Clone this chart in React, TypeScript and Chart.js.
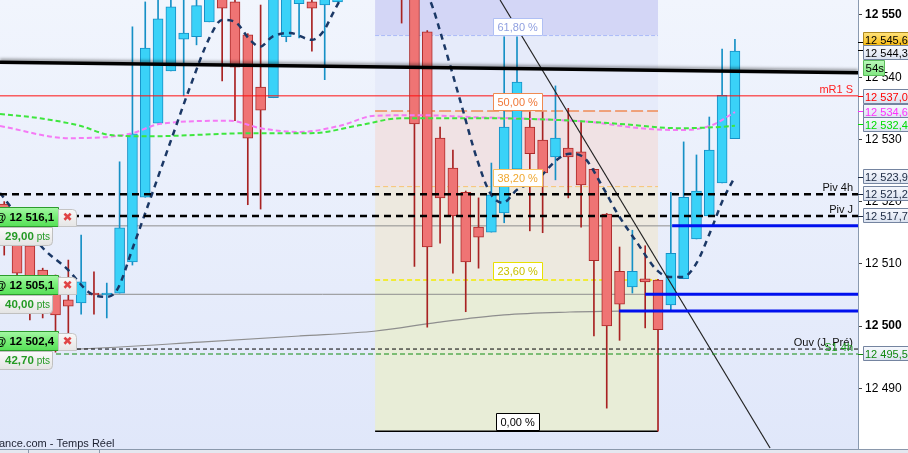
import React, { useEffect, useRef } from 'react';
import { Chart, registerables } from 'chart.js';

Chart.register(...registerables);

const FONT = '"Liberation Sans", Arial, Helvetica, sans-serif';

// ---------- candles (index, O, H, L, C) ----------
const candleIndex = [-1, 0, 1, 2, 3, 4, 5, 6, 7, 8, 9, 10, 11, 12, 13, 14, 15, 16, 17, 18, 19, 20, 21, 22, 23, 24, 25, 26, 27, 28, 29, 30, 31, 32, 33, 34, 35, 36, 37, 38, 39, 40, 41, 42, 43, 44, 45, 46, 47, 48, 49, 50, 51, 52, 53, 54, 55, 56];
const opens = [12519.6, 12515.8, 12512.9, 12509.0, 12507.9, 12504.2, 12503.7, 12505.3, 12505.0, 12505.3, 12510.3, 12520.7, 12532.6, 12541.0, 12546.1, 12546.5, 12548.9, 12554.0, 12552.1, 12546.8, 12538.4, 12536.7, 12546.5, 12551.8, 12552.1, 12551.6, 12552.1, 12560.0, 12570.0, 12578.0, 12572.0, 12563.0, 12556.0, 12547.3, 12530.2, 12525.4, 12521.5, 12515.9, 12515.1, 12518.2, 12525.2, 12532.0, 12529.9, 12527.2, 12528.6, 12528.0, 12525.2, 12518.0, 12508.8, 12506.3, 12507.6, 12507.4, 12503.4, 12507.6, 12514.0, 12517.7, 12523.0, 12530.1];
const highs = [12520.0, 12516.5, 12513.2, 12509.3, 12508.2, 12510.6, 12514.6, 12508.7, 12506.9, 12526.4, 12548.1, 12552.1, 12553.5, 12554.0, 12553.0, 12554.0, 12555.0, 12555.0, 12553.0, 12547.0, 12551.6, 12556.0, 12556.0, 12557.0, 12555.0, 12558.0, 12562.0, 12572.0, 12580.0, 12586.0, 12574.0, 12565.0, 12557.0, 12547.5, 12532.0, 12528.3, 12521.7, 12520.6, 12526.2, 12546.5, 12546.5, 12534.4, 12534.4, 12538.6, 12535.0, 12533.0, 12525.3, 12518.1, 12512.7, 12515.4, 12512.9, 12507.5, 12521.5, 12529.6, 12527.5, 12533.6, 12544.5, 12546.1];
const lows = [12511.4, 12507.7, 12501.0, 12501.3, 12495.8, 12496.1, 12501.9, 12501.9, 12501.3, 12505.3, 12509.8, 12520.7, 12532.6, 12541.0, 12537.0, 12545.2, 12548.9, 12539.4, 12533.0, 12519.5, 12518.8, 12536.7, 12545.7, 12546.3, 12544.2, 12539.6, 12552.1, 12558.0, 12568.0, 12570.0, 12560.0, 12548.7, 12509.6, 12499.8, 12513.3, 12508.5, 12502.3, 12509.3, 12515.1, 12516.6, 12525.2, 12515.3, 12515.0, 12523.5, 12520.6, 12515.9, 12498.4, 12486.8, 12497.7, 12505.3, 12499.7, 12483.1, 12502.6, 12507.6, 12514.0, 12517.7, 12523.0, 12530.1];
const closes = [12514.0, 12508.5, 12504.2, 12503.4, 12501.8, 12503.2, 12507.1, 12505.0, 12505.3, 12515.8, 12530.9, 12544.7, 12549.4, 12551.3, 12547.1, 12551.5, 12553.5, 12551.1, 12541.6, 12530.2, 12534.7, 12554.0, 12555.0, 12556.0, 12551.1, 12556.0, 12560.0, 12570.0, 12578.0, 12572.0, 12563.0, 12556.0, 12532.5, 12512.7, 12520.6, 12517.7, 12510.3, 12514.3, 12521.1, 12532.0, 12539.2, 12527.7, 12524.6, 12530.2, 12527.2, 12522.7, 12510.5, 12500.0, 12503.5, 12508.8, 12507.1, 12499.4, 12511.7, 12520.7, 12521.7, 12528.3, 12537.1, 12544.2];

// ---------- moving averages ----------
const navyIdx = [-1.33, 2.03, 3.9, 5.69, 7.02, 7.8, 9.05, 10.37, 11.93, 13.49, 15.05, 15.99, 17.0, 18.17, 18.95, 19.9, 21.29, 23.0, 23.87, 24.65, 25.2, 28.5, 32.2, 33.2, 34.56, 35.9, 36.9, 37.9, 39.0, 40.56, 42.1, 43.1, 44.15, 45.7, 46.8, 48.4, 49.9, 50.9, 51.95, 53.0, 54.05, 55.07, 56.0];
const navyVal = [12521.4, 12512.5, 12509.2, 12505.3, 12504.7, 12505.8, 12512.7, 12520.3, 12529.4, 12538.4, 12546.5, 12549.2, 12548.9, 12546.0, 12544.9, 12546.5, 12547.1, 12546.0, 12547.3, 12550.3, 12552.4, 12562.0, 12552.4, 12546.0, 12536.3, 12526.7, 12521.4, 12519.8, 12521.9, 12523.5, 12526.7, 12527.7, 12527.2, 12522.3, 12518.2, 12513.3, 12509.0, 12507.9, 12507.9, 12510.1, 12515.0, 12520.3, 12524.0];
const pinkIdx = [-1.33, 4.1, 8.8, 11.2, 16.6, 19.0, 22.1, 25.2, 27.9, 31.4, 35.3, 40.0, 44.7, 48.6, 51.7, 54.1, 56.0];
const pinkVal = [12532.15, 12530.2, 12530.9, 12532.5, 12533.0, 12531.8, 12531.2, 12532.2, 12533.8, 12533.9, 12533.6, 12533.3, 12532.8, 12531.8, 12531.5, 12532.2, 12534.4];
const greenIdx = [-1.33, 1.8, 4.9, 7.3, 10.4, 18.2, 22.9, 26.8, 29.9, 36.1, 42.4, 47.0, 51.7, 54.8, 56.0];
const greenVal = [12534.1, 12533.4, 12532.2, 12530.7, 12530.5, 12531.0, 12531.0, 12532.3, 12533.4, 12533.4, 12533.1, 12532.5, 12531.8, 12532.0, 12532.2];
const grayIdx = [-1.33, 4.68, 14.27, 22.07, 28.0, 32.8, 38.0, 43.1, 46.96];
const grayVal = [12496.0, 12496.3, 12497.4, 12498.4, 12499.2, 12500.6, 12501.8, 12502.25, 12502.4];

// ---------- trend lines ----------
const trendIdx = [-1.33, 65.6];
const trendVal = [12542.4, 12540.7];
const diagIdx = [37.68, 58.74];
const diagVal = [12552.4, 12480.4];

// ---------- Fibonacci ----------
const fibStartIdx = 27.93;
const fibEndIdx = 50;
const fibLow = 12483.1;
const fibHigh = 12586.0;
const fibRatios = [0, 23.6, 38.2, 50, 61.8, 100];
const fibLabels = ['0,00 %', '23,60 %', '38,20 %', '50,00 %', '61,80 %'];

// ---------- horizontal levels ----------
const pivot4h = 12521.2;
const pivotJ = 12517.7;
const mR1S = 12537.0;
const ouvJPre = 12496.3;
const s14h = 12495.5;
const orderLevels = [12516.1, 12505.1, 12502.4];
const orderStartIdx = [51.1, 49.0, 46.96];
const orderGuide = [true, true, false];
const orderPts = ['29,00', '40,00', '42,70'];

// ---------- right axis tags ----------
const tagValues = [12545.6, 12544.3, 12537.0, 12534.6, 12532.4, 12523.9, 12521.2, 12517.7, 12495.5];
const tagColors = ['#000000', '#000000', '#ff0000', '#ff30ff', '#00dd00', '#1a2840', '#1a2840', '#1a2840', '#108810'];
const timerText = '54s';

const Y_MIN = 12480.23;
const Y_MAX = 12552.41;
const X_MIN = -1.33;
const X_MAX = 65.6;

const fmt = (v: number, dec: number) => {
  const s = v.toFixed(dec).replace('.', ',');
  const [int, frac] = s.split(',');
  const th = int.slice(0, int.length - 3) + ' ' + int.slice(-3);
  return frac !== undefined ? th + ',' + frac : th;
};

const fibLevel = (r: number) => fibLow + ((fibHigh - fibLow) * r) / 100;

function lineDs(xs: number[], ys: number[], color: string, width: number, dash: number[], order: number, extra: any = {}) {
  return {
    type: 'line',
    data: xs.map((x, i) => ({ x, y: ys[i] })),
    borderColor: color,
    borderWidth: width,
    borderDash: dash,
    pointRadius: 0,
    tension: 0,
    fill: false,
    order,
    ...extra,
  };
}

const RED_FILL = '#ef7474';
const RED_EDGE = '#ac2a2a';
const BLUE_FILL = '#3ad2f8';
const BLUE_EDGE = '#1690c6';

function roundRect(ctx: CanvasRenderingContext2D, x: number, y: number, w: number, h: number, r: number[]) {
  ctx.beginPath();
  (ctx as any).roundRect(x, y, w, h, r);
}

const overlay = {
  id: 'overlay',
  beforeDraw(chart: any) {
    const { ctx, chartArea: a } = chart;
    ctx.save();
    ctx.fillStyle = '#ffffff';
    ctx.fillRect(0, 0, chart.width, chart.height);
    const g = ctx.createLinearGradient(0, a.top, 0, a.bottom);
    g.addColorStop(0, '#f1f5fd');
    g.addColorStop(1, '#e0e7fa');
    ctx.fillStyle = g;
    ctx.fillRect(a.left, a.top, a.right - a.left, a.bottom - a.top);
    ctx.fillStyle = '#e4e8f0';
    ctx.fillRect(0, a.bottom, chart.width, chart.height - a.bottom);
    ctx.strokeStyle = '#8a98ac';
    ctx.lineWidth = 1;
    ctx.beginPath();
    ctx.moveTo(0, a.bottom + 0.5);
    ctx.lineTo(chart.width, a.bottom + 0.5);
    ctx.moveTo(28.5, a.bottom);
    ctx.lineTo(28.5, chart.height);
    ctx.moveTo(99.5, a.bottom);
    ctx.lineTo(99.5, chart.height);
    ctx.stroke();
    ctx.restore();
  },
  beforeDatasetDraw(chart: any, args: any) {
    if (args.meta._dataset && args.meta._dataset.label === 'trend') {
      const ctx = chart.ctx;
      ctx.save();
      ctx.shadowColor = 'rgba(0,0,0,0.35)';
      ctx.shadowBlur = 3;
      ctx.shadowOffsetY = -2;
    }
  },
  afterDatasetDraw(chart: any, args: any) {
    if (args.meta._dataset && args.meta._dataset.label === 'trend') {
      chart.ctx.restore();
    }
  },
  afterDraw(chart: any) {
    const { ctx, chartArea: a } = chart;
    const xs = chart.scales.x;
    const ys = chart.scales.y;
    const py = (v: number) => ys.getPixelForValue(v);
    ctx.save();

    // ---- in-plot text labels ----
    ctx.font = `11px ${FONT}`;
    ctx.textAlign = 'right';
    ctx.textBaseline = 'alphabetic';
    const txt = (t: string, v: number, color: string, dy: number) => {
      ctx.fillStyle = color;
      ctx.fillText(t, a.right - 5, py(v) + dy);
    };
    txt('mR1 S', mR1S, '#ff2020', -3);
    txt('Piv 4h', pivot4h, '#101010', -3);
    txt('Piv J', pivotJ, '#101010', -3);
    txt('Ouv (J. Pré)', ouvJPre, '#101010', -3);
    txt('S1 4h', s14h, '#1a9a1a', -3);

    // ---- fib labels ----
    const fibText = ['#000000', '#c8c000', '#f0a830', '#f07838', '#8f9fe0'];
    const fibEdge = ['#000000', '#e8e000', '#f8c060', '#f08a50', '#b0c0f4'];
    ctx.textAlign = 'left';
    ctx.textBaseline = 'middle';
    for (let i = 0; i < fibLabels.length; i++) {
      const yb = Math.round(py(fibLevel(fibRatios[i])));
      const w = i === 0 ? 43 : 49;
      const cx = xs.getPixelForValue(39.05);
      const x0 = Math.round(cx - w / 2) + 0.5;
      ctx.fillStyle = '#ffffff';
      ctx.strokeStyle = fibEdge[i];
      ctx.lineWidth = 1;
      ctx.beginPath();
      ctx.rect(x0, yb - 17.5, w, 17);
      ctx.fill();
      ctx.stroke();
      ctx.fillStyle = fibText[i];
      ctx.font = `11px ${FONT}`;
      ctx.fillText(fibLabels[i], x0 + 4, yb - 8.5);
    }

    // ---- left order boxes ----
    const nudges = [0, 0, 39];
    for (let i = 0; i < orderLevels.length; i++) {
      const yb = Math.round(py(orderLevels[i])) + nudges[i];
      const top = yb - 19;
      const g = ctx.createLinearGradient(0, top, 0, yb);
      g.addColorStop(0, '#a8f7a8');
      g.addColorStop(0.5, '#78ee78');
      g.addColorStop(1, '#58e058');
      ctx.fillStyle = g;
      ctx.strokeStyle = '#2c9c2c';
      ctx.lineWidth = 1;
      ctx.beginPath();
      ctx.rect(-2.5, top + 0.5, 61, 19);
      ctx.fill();
      ctx.stroke();
      ctx.fillStyle = '#000000';
      ctx.font = `bold 11.5px ${FONT}`;
      ctx.textAlign = 'left';
      ctx.textBaseline = 'middle';
      ctx.fillText('@ ' + fmt(orderLevels[i], 1), -5, top + 10.5);
      const gb = ctx.createLinearGradient(0, top, 0, yb);
      gb.addColorStop(0, '#fbfbfb');
      gb.addColorStop(1, '#e6e6e6');
      ctx.fillStyle = gb;
      ctx.strokeStyle = '#c4c4c4';
      roundRect(ctx, 58.5, top + 2.5, 18, 17, [0, 4, 0, 0]);
      ctx.fill();
      ctx.stroke();
      ctx.fillStyle = '#e04444';
      ctx.font = `bold 12px "DejaVu Sans", sans-serif`;
      ctx.textAlign = 'center';
      ctx.fillText('\u2716', 67.5, top + 11);
      const gp = ctx.createLinearGradient(0, yb, 0, yb + 19);
      gp.addColorStop(0, '#fcfcfc');
      gp.addColorStop(1, '#e4e4e4');
      ctx.fillStyle = gp;
      ctx.strokeStyle = '#c0c0c0';
      roundRect(ctx, -2.5, yb + 1.5, 55, 18, [0, 0, 4, 0]);
      ctx.fill();
      ctx.stroke();
      ctx.textAlign = 'left';
      ctx.fillStyle = '#249a24';
      ctx.font = `bold 11.5px ${FONT}`;
      ctx.fillText(orderPts[i], 5, yb + 11);
      const w = ctx.measureText(orderPts[i]).width;
      ctx.font = `10px ${FONT}`;
      ctx.fillText('pts', 5 + w + 3, yb + 11.5);
    }

    // ---- right axis tags ----
    const tagNudge = [-2.5, 3, 1, 1, 1, 0, 0, 0, 0];
    const x0 = a.right + 5.5;
    for (let i = 0; i < tagValues.length; i++) {
      const vy = py(tagValues[i]);
      const yc = Math.round(vy + tagNudge[i]);
      ctx.strokeStyle = tagColors[i];
      ctx.lineWidth = 1;
      ctx.beginPath();
      ctx.moveTo(a.right, Math.round(vy) + 0.5);
      ctx.lineTo(a.right + 5, Math.round(vy) + 0.5);
      ctx.stroke();
      const g = ctx.createLinearGradient(0, yc - 7, 0, yc + 7);
      if (i === 0) {
        g.addColorStop(0, '#ffe27a');
        g.addColorStop(1, '#f6b400');
        ctx.strokeStyle = '#b08a20';
      } else {
        g.addColorStop(0, '#f6f8fd');
        g.addColorStop(1, '#d9e1ef');
        ctx.strokeStyle = '#7484a0';
      }
      ctx.fillStyle = g;
      ctx.beginPath();
      ctx.rect(x0, yc - 7.5, 50, 14);
      ctx.fill();
      ctx.stroke();
      ctx.fillStyle = tagColors[i];
      ctx.font = `11px ${FONT}`;
      ctx.textAlign = 'left';
      ctx.textBaseline = 'middle';
      ctx.fillText(fmt(tagValues[i], 1), x0 + 1.5, yc + 0.5);
      if (i === 1) {
        const ty = yc + 15;
        const gt = ctx.createLinearGradient(0, ty - 7, 0, ty + 7);
        gt.addColorStop(0, '#b8f8b8');
        gt.addColorStop(1, '#84e884');
        ctx.fillStyle = gt;
        ctx.strokeStyle = '#5cbc5c';
        ctx.beginPath();
        ctx.rect(x0, ty - 7.5, 21, 15);
        ctx.fill();
        ctx.stroke();
        ctx.fillStyle = '#000000';
        ctx.font = `11.5px ${FONT}`;
        ctx.fillText(timerText, x0 + 2, ty + 0.5);
      }
    }

    // ---- footer text ----
    ctx.fillStyle = '#1c2030';
    ctx.font = `11px ${FONT}`;
    ctx.textAlign = 'left';
    ctx.textBaseline = 'alphabetic';
    ctx.fillText('ance.com - Temps Réel', -1, 447);
    ctx.restore();
  },
};

export default function App() {
  const ref = useRef<HTMLCanvasElement>(null);
  useEffect(() => {
    const isUp = candleIndex.map((_, i) => closes[i] >= opens[i]);
    const datasets: any[] = [];

    const bandColors = ['#e8edd7', '#ede9df', '#f0e2e4', '#e6ebfa', '#d3d6f6'];
    for (let i = 0; i < 5; i++) {
      const top = fibLevel(fibRatios[i + 1]);
      const bot = fibLevel(fibRatios[i]);
      datasets.push(lineDs([fibStartIdx, fibEndIdx], [top, top], 'rgba(0,0,0,0)', 0, [], 300, {
        fill: { value: bot },
        backgroundColor: bandColors[i],
      }));
    }
    const fibLineColor = ['#000000', '#f4ec00', '#f8c470', '#f08a54', '#aabaf8'];
    const fibLineDash = [[], [5, 3], [5, 3], [12, 4], [4, 2]];
    const fibLineW = [1.5, 1.5, 1, 1.5, 1];
    for (let i = 0; i < 5; i++) {
      const v = fibLevel(fibRatios[i]);
      datasets.push(lineDs([fibStartIdx, fibEndIdx], [v, v], fibLineColor[i], fibLineW[i], fibLineDash[i], 290));
    }

    for (let i = 0; i < orderLevels.length; i++) {
      if (orderGuide[i]) {
        datasets.push(lineDs([X_MIN, orderStartIdx[i]], [orderLevels[i], orderLevels[i]], '#8e8e8e', 1, [], 280));
      }
    }
    datasets.push(lineDs(grayIdx, grayVal, '#8e8e8e', 1.2, [], 280, { cubicInterpolationMode: 'monotone' }));

    datasets.push({
      type: 'bar',
      data: candleIndex.map((x, i) => ({ x, y: [lows[i], highs[i]] })),
      backgroundColor: isUp.map((u) => (u ? BLUE_EDGE : '#a82222')),
      borderWidth: 0,
      barThickness: 1,
      grouped: false,
      order: 200,
    });
    datasets.push({
      type: 'bar',
      data: candleIndex.map((x, i) => ({ x, y: [opens[i], closes[i]] })),
      backgroundColor: isUp.map((u) => (u ? BLUE_FILL : RED_FILL)),
      borderColor: isUp.map((u) => (u ? BLUE_EDGE : RED_EDGE)),
      borderWidth: 1,
      borderSkipped: false,
      barThickness: 10,
      grouped: false,
      order: 190,
    });

    datasets.push(lineDs(pinkIdx, pinkVal, '#f57af5', 2, [5, 3], 150, { cubicInterpolationMode: 'monotone' }));
    datasets.push(lineDs(greenIdx, greenVal, '#3ee63e', 2, [5, 3], 149, { cubicInterpolationMode: 'monotone' }));
    datasets.push(lineDs(navyIdx, navyVal, '#1b3866', 2.5, [6, 5], 140, { cubicInterpolationMode: 'monotone' }));

    datasets.push(lineDs(diagIdx, diagVal, '#222222', 1.2, [], 130));

    datasets.push(lineDs([X_MIN, X_MAX], [mR1S, mR1S], '#ff1010', 1, [], 120));
    datasets.push(lineDs([X_MIN, X_MAX], [pivot4h, pivot4h], '#000000', 2.5, [7, 5], 120));
    datasets.push(lineDs([X_MIN, X_MAX], [pivotJ, pivotJ], '#000000', 2.5, [7, 5], 120));
    datasets.push(lineDs([X_MIN, X_MAX], [ouvJPre, ouvJPre], '#000000', 1, [4, 3], 120));
    datasets.push(lineDs([X_MIN, X_MAX], [s14h, s14h], '#108c10', 1, [5, 3], 120));
    for (let i = 0; i < orderLevels.length; i++) {
      datasets.push(lineDs([orderStartIdx[i], X_MAX], [orderLevels[i], orderLevels[i]], '#0010ee', 3, [], 110));
    }

    datasets.push(lineDs(trendIdx, trendVal, '#000000', 3.5, [], 100, { label: 'trend' }));

    const chart = new Chart(ref.current as HTMLCanvasElement, {
      type: 'bar',
      data: { datasets },
      options: {
        animation: false,
        responsive: false,
        devicePixelRatio: 1,
        events: [],
        layout: { padding: { left: 0, right: 0, top: 0, bottom: 4 } },
        plugins: { legend: { display: false }, tooltip: { enabled: false } },
        scales: {
          x: {
            type: 'linear',
            min: X_MIN,
            max: X_MAX,
            offset: false,
            display: false,
          },
          y: {
            type: 'linear',
            position: 'right',
            min: Y_MIN,
            max: Y_MAX,
            afterBuildTicks: (scale: any) => {
              scale.ticks = scale.ticks.filter((t: any) => Math.abs(t.value % 10) < 1e-6);
            },
            afterFit: (scale: any) => {
              scale.width = 50;
              scale.paddingTop = 0;
              scale.paddingBottom = 0;
            },
            ticks: {
              stepSize: 10,
              padding: 3,
              color: '#000000',
              callback: (v: any) => fmt(Number(v), 0),
              font: (c: any) => ({
                family: FONT,
                size: 12,
                weight: c.tick && Math.abs(c.tick.value % 50) < 1e-6 ? 'bold' : 'normal',
              }),
            },
            grid: { drawOnChartArea: false, drawTicks: true, tickLength: 4, color: '#404040' },
            border: { display: true, color: '#8a9ab0' },
          },
        },
      } as any,
      plugins: [overlay],
    } as any);
    return () => chart.destroy();
  }, []);

  return (
    <div style={{ position: 'absolute', left: 0, top: 0, width: 908, height: 453 }}>
      <canvas ref={ref} width={908} height={453} style={{ display: 'block', width: 908, height: 453 }} />
    </div>
  );
}
